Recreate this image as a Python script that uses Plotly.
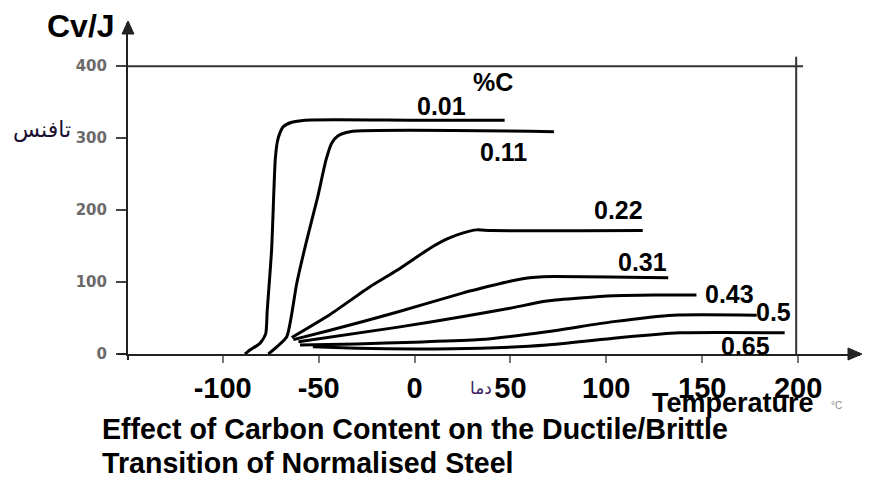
import plotly.graph_objects as go

# ---- data ----
carbon_labels = ["0.01", "0.11", "0.22", "0.31", "0.43", "0.5", "0.65"]

t_001 = [-88.4, -85.8, -80.6, -77.6, -76.8, -74.5, -72.6, -71.5, -70.2, -68.4, -64, -57, 0, 47]
cv_001 = [0, 5.6, 14.8, 28, 60, 145, 270, 295, 307, 316, 322, 325, 325, 325]

t_011 = [-76.2, -71.8, -66.6, -61.4, -56.2, -50.5, -46.1, -43.2, -40, -33.6, 72.7]
cv_011 = [0, 10, 24, 98, 158, 218, 270, 293, 303, 309, 309]

t_022 = [-64, -44, -23.2, -9.3, 8.1, 17, 25, 32.4, 40, 119]
cv_022 = [23, 55, 93.5, 116, 147, 160, 168, 172.5, 171.5, 171.5]

t_031 = [-63.2, -44, -9.3, 25.4, 34.2, 49.8, 60, 67, 132.3]
cv_031 = [20, 33, 58, 85, 91, 101, 106, 107.5, 106]

t_043 = [-60.5, -9.3, 25.4, 49.8, 69, 103.7, 125, 147]
cv_043 = [17, 37, 52, 63.5, 73.6, 81, 82, 82]

t_050 = [-59.7, -30, 0, 34.2, 69, 103.7, 135, 178.4]
cv_050 = [12.5, 14, 16.5, 20, 31, 45, 54, 54]

t_065 = [-53, -30, 0, 34.2, 69, 103.7, 138.4, 160, 193]
cv_065 = [10, 8, 7, 8, 12.5, 22, 29.5, 30, 29.5]

series_t = [t_001, t_011, t_022, t_031, t_043, t_050, t_065]
series_cv = [cv_001, cv_011, cv_022, cv_031, cv_043, cv_050, cv_065]

x_ticks = [-100, -50, 0, 50, 100, 150, 200]
y_ticks = [0, 100, 200, 300, 400]

# label anchor points (data coordinates) for each carbon content
label_t = [14.2, 46.2, 106.6, 119.1, 164.0, 187.2, 172.8]
label_cv = [344.9, 281.1, 200.1, 128.3, 83.4, 58.8, 11.4]

fig = go.Figure()
for t, cv, name in zip(series_t, series_cv, carbon_labels):
    fig.add_trace(go.Scatter(x=t, y=cv, mode="lines", name=name,
                             line=dict(color="black", width=3, shape="spline", smoothing=0.6),
                             showlegend=False, hoverinfo="skip"))

# frame lines: 400 level and the 200 degree line
fig.add_shape(type="line", xref="x", yref="y", x0=-149.5, x1=202.6, y0=400, y1=400,
              line=dict(color="#333", width=2))
fig.add_shape(type="line", xref="x", yref="y", x0=199, x1=199, y0=0, y1=413,
              line=dict(color="#333", width=2))

LBL = "Liberation Sans, Arial, sans-serif"
for t, cv, name in zip(label_t, label_cv, carbon_labels):
    fig.add_annotation(x=t, y=cv, xref="x", yref="y", text=name, showarrow=False,
                       font=dict(family=LBL, size=25, color="black", weight="bold"),
                       xanchor="center", yanchor="middle")
fig.add_annotation(x=40.7, y=378.4, xref="x", yref="y", text="%C", showarrow=False,
                   font=dict(family=LBL, size=25, color="black", weight="bold"),
                   xanchor="center", yanchor="middle")

# page offset (body margin) and plot box in the reference's pixel frame
OFF = 8
L, R, T, B = 128, 860, 23, 354
W, H = 870 - OFF, 480 - OFF
def px(xp):
    return (xp - L) / (R - L)
def py(yp):
    return (B - yp) / (B - T)

# axis extensions and arrowheads
fig.add_shape(type="line", xref="paper", yref="paper", x0=px(118), x1=px(128), y0=0, y1=0,
              line=dict(color="#222", width=2))
fig.add_shape(type="line", xref="paper", yref="paper", x0=0, x1=0, y0=py(360), y1=0,
              line=dict(color="#222", width=2))
fig.add_shape(type="path", xref="paper", yref="paper",
              path=f"M {px(128)} {py(21)} L {px(122)} {py(34)} L {px(134)} {py(34)} Z",
              fillcolor="#222", line=dict(color="#222", width=1))
fig.add_shape(type="path", xref="paper", yref="paper",
              path=f"M {px(862)} {py(354)} L {px(848)} {py(348)} L {px(848)} {py(360)} Z",
              fillcolor="#222", line=dict(color="#222", width=1))

# texts
fig.add_annotation(xref="paper", yref="paper", x=px(81), y=py(26), text="Cv/J",
                   showarrow=False, xanchor="center", yanchor="middle",
                   font=dict(family=LBL, size=32, color="black", weight="bold"))
fig.add_annotation(xref="paper", yref="paper", x=px(42), y=py(130), text="تافنس",
                   showarrow=False, xanchor="center", yanchor="middle",
                   font=dict(family="DejaVu Sans, Noto Sans", size=22, color="#1a1030"))
fig.add_annotation(xref="paper", yref="paper", x=px(481), y=py(388), text="دما",
                   showarrow=False, xanchor="center", yanchor="middle",
                   font=dict(family="DejaVu Sans, Noto Sans", size=17, color="#3a2060"))
fig.add_annotation(xref="paper", yref="paper", x=px(733), y=py(403), text="Temperature",
                   showarrow=False, xanchor="center", yanchor="middle",
                   font=dict(family=LBL, size=27, color="black", weight="bold"))
fig.add_annotation(xref="paper", yref="paper", x=px(836), y=py(405), text="°C",
                   showarrow=False, xanchor="center", yanchor="middle",
                   font=dict(family=LBL, size=10, color="#888"))
fig.add_annotation(xref="paper", yref="paper", x=px(100), y=py(429),
                   text="Effect of Carbon Content on the Ductile/Brittle",
                   showarrow=False, xanchor="left", yanchor="middle",
                   font=dict(family=LBL, size=28.6, color="black", weight="bold"))
fig.add_annotation(xref="paper", yref="paper", x=px(100), y=py(463),
                   text="Transition of Normalised Steel",
                   showarrow=False, xanchor="left", yanchor="middle",
                   font=dict(family=LBL, size=28.6, color="black", weight="bold"))

fig.update_layout(
    width=W, height=H,
    margin=dict(l=L - OFF, r=W - (R - OFF), t=T - OFF, b=H - (B - OFF), autoexpand=False),
    plot_bgcolor="white", paper_bgcolor="white",
    showlegend=False,
)
fig.update_xaxes(range=[(L - 414.5) / 1.918, (R - 414.5) / 1.918], automargin=False,
                 tickvals=x_ticks, ticktext=[str(v) for v in x_ticks],
                 showgrid=False, zeroline=False, showline=True, linecolor="#222", linewidth=2,
                 ticks="outside", ticklen=7, tickwidth=1.5, tickcolor="#777",
                 ticklabelstandoff=0,
                 tickfont=dict(family=LBL, size=29, color="black", weight="bold"))
fig.update_yaxes(range=[0, 460], automargin=False, tickvals=y_ticks,
                 ticktext=[str(v) for v in y_ticks],
                 showgrid=False, zeroline=False, showline=True, linecolor="#222", linewidth=2,
                 ticks="outside", ticklen=10, tickwidth=2, tickcolor="#444",
                 ticklabelstandoff=6,
                 tickfont=dict(family="DejaVu Sans", size=15, color="#6a6a6a", weight="bold"))

fig.write_html("out.html")
